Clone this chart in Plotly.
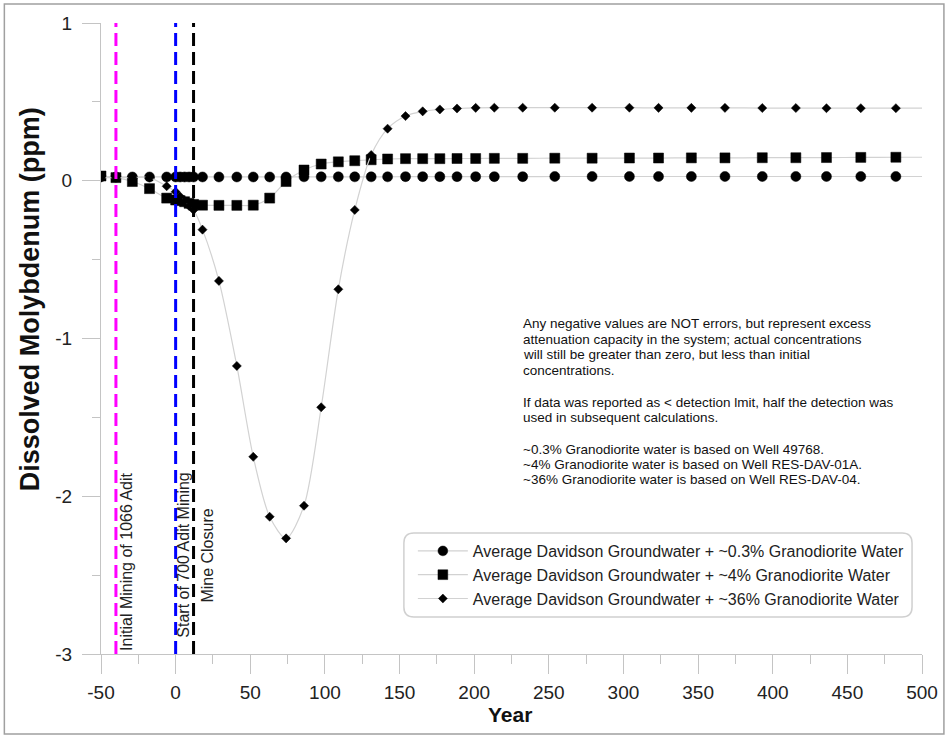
import plotly.graph_objects as go

# ---------------- data ----------------
years = [-50, -40, -29, -17.5, -6, 0, 3, 6, 9, 12, 18, 29, 41, 52, 63, 74, 86, 97.5,
         109, 120, 131, 142, 154, 165.5, 177, 188.5, 201, 213.5, 232.5, 254, 279, 304,
         323.5, 345.5, 368, 393, 415.5, 436, 459, 482.5, 500]

mo_03pct = [0.025, 0.024, 0.024, 0.024, 0.024, 0.024, 0.024, 0.024, 0.024, 0.024, 0.024,
            0.024, 0.024, 0.024, 0.024, 0.024, 0.025, 0.025, 0.025, 0.025, 0.025, 0.025,
            0.026, 0.026, 0.026, 0.026, 0.026, 0.026, 0.026, 0.027, 0.027, 0.027, 0.027,
            0.027, 0.027, 0.027, 0.027, 0.027, 0.027, 0.027, 0.027]

mo_4pct = [0.03, 0.02, -0.005, -0.05, -0.11, -0.122, -0.126, -0.133, -0.143, -0.15, -0.155,
           -0.156, -0.156, -0.155, -0.11, -0.005, 0.068, 0.106, 0.12, 0.127, 0.133, 0.138,
           0.14, 0.14, 0.14, 0.141, 0.141, 0.142, 0.142, 0.143, 0.143, 0.144, 0.144, 0.145,
           0.145, 0.146, 0.146, 0.147, 0.148, 0.149, 0.149]

mo_36pct = [0.02, 0.02, 0.02, 0.02, -0.035, -0.07, -0.1, -0.13, -0.16, -0.185, -0.31, -0.635,
            -1.174, -1.75, -2.13, -2.267, -2.06, -1.436, -0.688, -0.185, 0.163, 0.33, 0.41,
            0.44, 0.452, 0.458, 0.462, 0.463, 0.463, 0.463, 0.463, 0.463, 0.462, 0.462, 0.462,
            0.461, 0.461, 0.46, 0.46, 0.46, 0.46]

series_names = ["Average Davidson Groundwater + ~0.3% Granodiorite Water",
                "Average Davidson Groundwater + ~4% Granodiorite Water",
                "Average Davidson Groundwater + ~36% Granodiorite Water"]

event_years = [-40, 0, 12]
event_colors = ["#ff00ff", "#0000ff", "#000000"]

note_lines = ["Any negative values are NOT errors, but represent excess",
              "attenuation capacity in the system; actual concentrations",
              "will still be greater than zero, but less than initial",
              "concentrations.",
              "If data was reported as &lt; detection lmit, half the detection was",
              "used in subsequent calculations.",
              "~0.3% Granodiorite water is based on Well 49768.",
              "~4% Granodiorite water is based on Well RES-DAV-01A.",
              "~36% Granodiorite water is based on Well RES-DAV-04."]
note_px_y = [323, 339, 355, 370, 402, 417, 449, 464, 479]

x_ticks = list(range(-50, 501, 50))
x_ticktext = [str(v) for v in x_ticks]
y_ticks = [-3, -2, -1, 0, 1]
y_ticktext = [str(v) for v in y_ticks]

# ---------------- layout geometry ----------------
W, H = 950, 736
ML, MR, MT, MB = 101, 25, 23, 82
X0, X1 = -50, 500
Y0, Y1 = -3, 1
PW, PH = W - ML - MR, H - MT - MB

def px2x(px):
    return X0 + (px - ML) / PW * (X1 - X0)

def py2y(py):
    return Y1 - (py - MT) / PH * (Y1 - Y0)

def pxpaper(px):
    return (px - ML) / PW

def pypaper(py):
    return (H - MB - py) / PH

FONT = "Liberation Sans, Arial, sans-serif"
LINE_GRAY = "#d2d2d2"
AX_GRAY = "#c4c4c4"

fig = go.Figure()

symbols = ["circle", "square", "diamond"]
sizes = [10, 10, 7]
for name, vals, sym, sz in zip(series_names, [mo_03pct, mo_4pct, mo_36pct], symbols, sizes):
    msize = [sz] * (len(years) - 1) + [0]
    fig.add_trace(go.Scatter(
        x=years, y=vals, name=name, mode="lines+markers",
        line=dict(color=LINE_GRAY, width=1.2, shape="spline", smoothing=0.8),
        marker=dict(symbol=sym, size=msize, color="#000000", opacity=1,
                    line=dict(width=0.5, color="#000000")),
    ))

# vertical event lines
for ex, col in zip(event_years, event_colors):
    fig.add_shape(type="line", xref="x", yref="y", x0=ex, x1=ex, y0=Y0, y1=Y1,
                  line=dict(color=col, width=3, dash="13px,6px"))

# event labels
event_labels = [("Initial Mining of 1066 Adit", 126, 562),
                ("Start of 700 Adit Mining", 183, 555),
                ("Mine Closure", 207, 556)]
for txt, cx, cy in event_labels:
    fig.add_annotation(text=txt, x=pxpaper(cx), y=pypaper(cy), xref="paper", yref="paper",
                       textangle=-90, showarrow=False, xanchor="center", yanchor="middle",
                       font=dict(family=FONT, size=16, color="#222"))

# notes
for txt, py in zip(note_lines, note_px_y):
    fig.add_annotation(text=txt, x=pxpaper(523), y=pypaper(py), xref="paper", yref="paper",
                       showarrow=False, xanchor="left", yanchor="middle", align="left",
                       font=dict(family=FONT, size=13.5, color="#111"))

# y title
fig.add_annotation(text="<b>Dissolved Molybdenum (ppm)</b>", x=pxpaper(30),
                   y=pypaper(299), xref="paper", yref="paper", textangle=-90,
                   showarrow=False, xanchor="center", yanchor="middle",
                   font=dict(family=FONT, size=27, color="#111"))

# x title
fig.add_annotation(text="<b>Year</b>", x=pxpaper(511), y=pypaper(714), xref="paper", yref="paper",
                   showarrow=False, xanchor="center", yanchor="middle",
                   font=dict(family=FONT, size=21, color="#111"))

# rounded legend box
def rounded_path(px0, py0, px1, py1, r):
    xa, xb = px2x(px0), px2x(px1)
    ya, yb = py2y(py0), py2y(py1)
    rx = r / PW * (X1 - X0)
    ry = r / PH * (Y1 - Y0)
    return (f"M{xa + rx},{ya} L{xb - rx},{ya} Q{xb},{ya} {xb},{ya - ry} "
            f"L{xb},{yb + ry} Q{xb},{yb} {xb - rx},{yb} L{xa + rx},{yb} "
            f"Q{xa},{yb} {xa},{yb + ry} L{xa},{ya - ry} Q{xa},{ya} {xa + rx},{ya} Z")

fig.add_shape(type="path", xref="x", yref="y", path=rounded_path(405, 533, 915, 617, 10),
              line=dict(color="#d0d0d0", width=1.5), fillcolor="rgba(255,255,255,0)")

# outer border
fig.add_shape(type="rect", xref="paper", yref="paper",
              x0=pxpaper(4), x1=pxpaper(947), y0=pypaper(734), y1=pypaper(4),
              line=dict(color="#a0a0a0", width=1.5))

fig.update_layout(
    width=W, height=H,
    margin=dict(l=ML, r=MR, t=MT, b=MB, pad=0),
    plot_bgcolor="white", paper_bgcolor="white",
    font=dict(family=FONT, color="#222"),
    showlegend=True,
    legend=dict(x=pxpaper(414), y=pypaper(534), xanchor="left", yanchor="top",
                bgcolor="rgba(0,0,0,0)", borderwidth=0, itemwidth=50,
                font=dict(family=FONT, size=16, color="#222")),
    xaxis=dict(range=[X0, X1], tickmode="array", tickvals=x_ticks, ticktext=x_ticktext,
               showline=True, linecolor=AX_GRAY, linewidth=1,
               ticks="outside", ticklen=19, tickcolor=AX_GRAY, tickwidth=1,
               minor=dict(dtick=25, tick0=-50, ticks="outside", ticklen=9, tickcolor=AX_GRAY, showgrid=False),
               showgrid=False, zeroline=False, ticklabelstandoff=2,
               tickfont=dict(family=FONT, size=19, color="#222")),
    yaxis=dict(range=[Y0, Y1], tickmode="array", tickvals=y_ticks, ticktext=y_ticktext,
               showline=True, linecolor=AX_GRAY, linewidth=1,
               ticks="outside", ticklen=18, tickcolor=AX_GRAY, tickwidth=1,
               minor=dict(dtick=0.5, tick0=0, ticks="outside", ticklen=8, tickcolor=AX_GRAY, showgrid=False),
               showgrid=False, zeroline=False, ticklabelstandoff=6,
               tickfont=dict(family=FONT, size=19, color="#222")),
)

fig.write_html("out.html")
